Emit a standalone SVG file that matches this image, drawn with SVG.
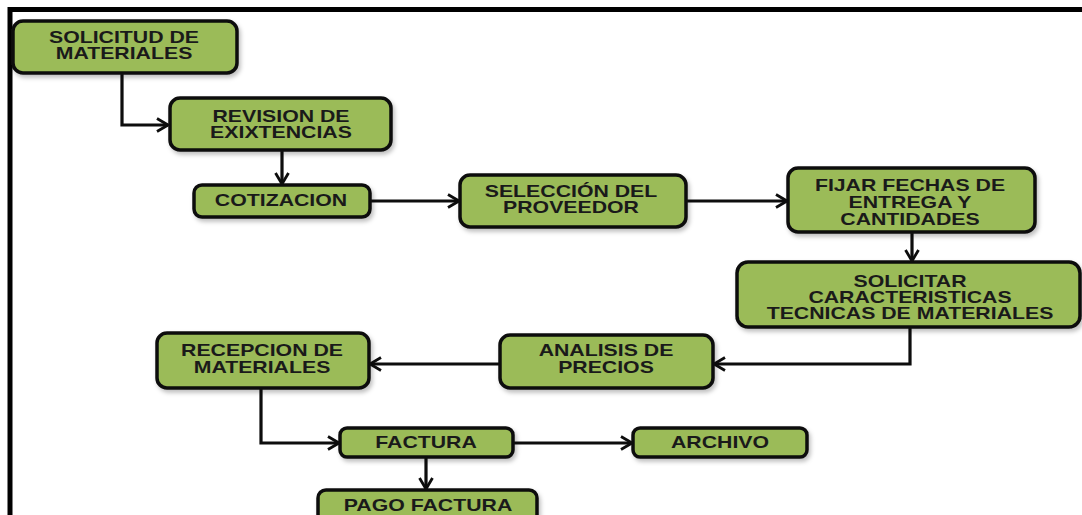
<svg xmlns="http://www.w3.org/2000/svg" width="1082" height="515" viewBox="0 0 1082 515">
<defs>
<style>
.box{fill:#9bbb59;stroke:#0d0d0d;stroke-width:3.5}
.t{font-family:"Liberation Sans",Arial,sans-serif;font-weight:bold;font-size:16px;fill:#1a1a1a;text-anchor:middle}
.c{fill:none;stroke:#0d0d0d;stroke-width:3.2;marker-end:url(#ah)}
</style>
<filter id="sh" x="-10%" y="-10%" width="130%" height="140%">
<feDropShadow dx="2" dy="3" stdDeviation="2" flood-color="#000" flood-opacity="0.25"/>
</filter>
<marker id="ah" viewBox="0 0 14 16" refX="12.5" refY="8" markerWidth="14" markerHeight="16" markerUnits="userSpaceOnUse" orient="auto">
<path d="M1.5,1.5 L12.5,8 L1.5,14.5" fill="none" stroke="#0d0d0d" stroke-width="2.8"/>
</marker>
</defs>
<rect width="1082" height="515" fill="#fff"/>
<path d="M10,515 V9.5 H1082" fill="none" stroke="#000" stroke-width="5"/>

<g id="connectors">
<path class="c" d="M122,73 V125 H168"/>
<path class="c" d="M282,150 V184"/>
<path class="c" d="M370,201 H459"/>
<path class="c" d="M686,201 H787"/>
<path class="c" d="M912,232 V261"/>
<path class="c" d="M910,327 V364 H714"/>
<path class="c" d="M500,364 H370"/>
<path class="c" d="M261,388 V443 H339"/>
<path class="c" d="M513,443 H632"/>
<path class="c" d="M426,457 V489"/>
</g>

<g id="n1"><rect class="box" filter="url(#sh)" x="13" y="21" width="224" height="52" rx="10"/>
<text class="t" transform="translate(124,0) scale(1.33,1)"><tspan x="0" y="43">SOLICITUD DE</tspan><tspan x="0" y="59">MATERIALES</tspan></text></g>

<g id="n2"><rect class="box" filter="url(#sh)" x="170" y="98" width="221" height="52" rx="10"/>
<text class="t" transform="translate(281,0) scale(1.33,1)"><tspan x="0" y="122">REVISION DE</tspan><tspan x="0" y="138">EXIXTENCIAS</tspan></text></g>

<g id="n3"><rect class="box" filter="url(#sh)" x="194" y="185" width="176" height="32" rx="8"/>
<text class="t" transform="translate(281,0) scale(1.33,1)"><tspan x="0" y="206">COTIZACION</tspan></text></g>

<g id="n4"><rect class="box" filter="url(#sh)" x="460" y="175" width="226" height="52" rx="10"/>
<text class="t" transform="translate(571,0) scale(1.33,1)"><tspan x="0" y="197">SELECCIÓN DEL</tspan><tspan x="0" y="213">PROVEEDOR</tspan></text></g>

<g id="n5"><rect class="box" filter="url(#sh)" x="788" y="168" width="247" height="64" rx="10"/>
<text class="t" transform="translate(910,0) scale(1.33,1)"><tspan x="0" y="191">FIJAR FECHAS DE</tspan><tspan x="0" y="208">ENTREGA Y</tspan><tspan x="0" y="225">CANTIDADES</tspan></text></g>

<g id="n6"><rect class="box" filter="url(#sh)" x="737" y="262" width="343" height="65" rx="11"/>
<text class="t" transform="translate(910,0) scale(1.33,1)"><tspan x="0" y="287">SOLICITAR</tspan><tspan x="0" y="303">CARACTERISTICAS</tspan><tspan x="0" y="319">TECNICAS DE MATERIALES</tspan></text></g>

<g id="n7"><rect class="box" filter="url(#sh)" x="500" y="335" width="213" height="53" rx="10"/>
<text class="t" transform="translate(606,0) scale(1.33,1)"><tspan x="0" y="356">ANALISIS  DE</tspan><tspan x="0" y="373">PRECIOS</tspan></text></g>

<g id="n8"><rect class="box" filter="url(#sh)" x="157" y="333" width="212" height="55" rx="10"/>
<text class="t" transform="translate(262,0) scale(1.33,1)"><tspan x="0" y="356">RECEPCION DE</tspan><tspan x="0" y="373">MATERIALES</tspan></text></g>

<g id="n9"><rect class="box" filter="url(#sh)" x="340" y="428" width="173" height="29" rx="7"/>
<text class="t" transform="translate(426,0) scale(1.33,1)"><tspan x="0" y="448">FACTURA</tspan></text></g>

<g id="n10"><rect class="box" filter="url(#sh)" x="633" y="428" width="174" height="29" rx="7"/>
<text class="t" transform="translate(720,0) scale(1.33,1)"><tspan x="0" y="448">ARCHIVO</tspan></text></g>

<g id="n11"><rect class="box" filter="url(#sh)" x="318" y="490" width="219" height="40" rx="8"/>
<text class="t" transform="translate(428,0) scale(1.33,1)"><tspan x="0" y="511">PAGO FACTURA</tspan></text></g>
</svg>
